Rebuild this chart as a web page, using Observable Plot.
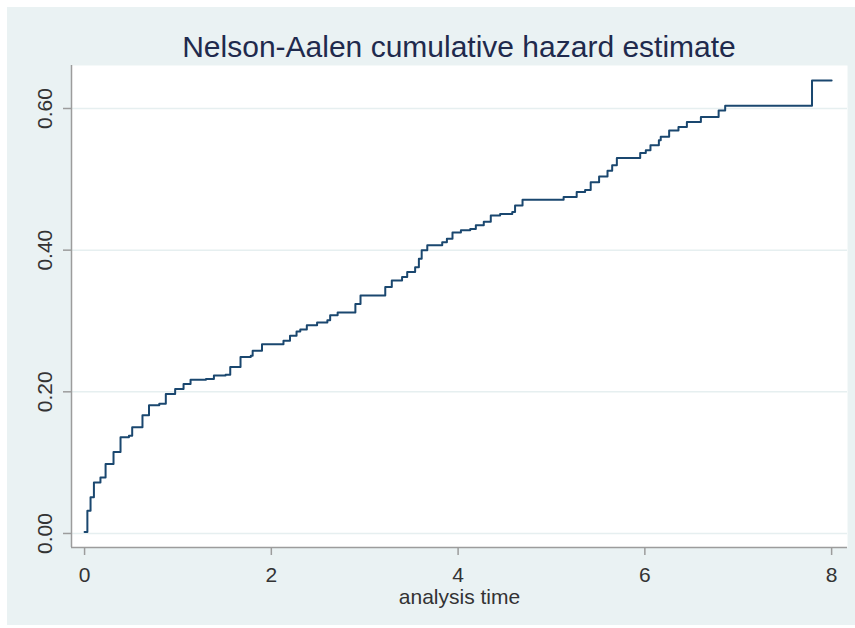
<!DOCTYPE html>
<html><head><meta charset="utf-8">
<script src="https://cdn.jsdelivr.net/npm/d3@7"></script>
<script src="https://cdn.jsdelivr.net/npm/@observablehq/plot@0.6"></script>
<style>
html,body{margin:0;padding:0;background:#fff;}
#bg{position:absolute;left:7px;top:7px;width:848px;height:618px;background:#eaf2f3;}
#title{position:absolute;left:71px;width:776px;top:32px;text-align:center;font-family:"Liberation Sans",Arial,Helvetica,sans-serif;font-size:30px;line-height:1;color:#1f2a4d;white-space:nowrap;}
#chart{position:absolute;left:0;top:50px;}
</style></head><body>
<div id="bg"></div>
<div id="title">Nelson-Aalen cumulative hazard estimate</div>
<div id="chart"></div>
<script>
const times = [0, 0.03, 0.064, 0.10, 0.17, 0.225, 0.31, 0.385, 0.475, 0.51, 0.62, 0.69, 0.80, 0.87, 0.97, 1.06, 1.135, 1.30, 1.385, 1.51, 1.56, 1.67, 1.78, 1.80, 1.90, 2.13, 2.20, 2.27, 2.31, 2.38, 2.49, 2.60, 2.63, 2.71, 2.90, 2.955, 3.22, 3.29, 3.40, 3.455, 3.54, 3.58, 3.61, 3.67, 3.83, 3.88, 3.94, 4.03, 4.13, 4.19, 4.275, 4.35, 4.45, 4.58, 4.61, 4.69, 5.13, 5.27, 5.36, 5.42, 5.51, 5.60, 5.65, 5.70, 5.95, 6.01, 6.06, 6.15, 6.17, 6.26, 6.36, 6.45, 6.60, 6.79, 6.86, 7.79, 8.0];
const hazards = [0.002, 0.032, 0.051, 0.072, 0.079, 0.098, 0.115, 0.136, 0.138, 0.150, 0.167, 0.181, 0.183, 0.197, 0.204, 0.211, 0.217, 0.218, 0.223, 0.224, 0.235, 0.249, 0.251, 0.258, 0.267, 0.272, 0.279, 0.285, 0.288, 0.294, 0.298, 0.301, 0.308, 0.312, 0.324, 0.336, 0.348, 0.357, 0.362, 0.369, 0.376, 0.388, 0.400, 0.407, 0.411, 0.416, 0.425, 0.428, 0.430, 0.435, 0.440, 0.449, 0.451, 0.454, 0.463, 0.471, 0.475, 0.482, 0.485, 0.496, 0.504, 0.512, 0.520, 0.530, 0.537, 0.541, 0.548, 0.555, 0.560, 0.569, 0.574, 0.581, 0.588, 0.597, 0.604, 0.6395, 0.6395];
const xTicks = [0, 2, 4, 6, 8];
const yTicks = [0, 0.2, 0.4, 0.6];
const xDomain = [-0.14, 8.17];
const yDomain = [-0.0198, 0.6607];
const xLabel = "analysis time";

const data = times.map((t, i) => ({t, h: hazards[i]}));
const font = '"Liberation Sans", Arial, Helvetica, sans-serif';

const chart = Plot.plot({
  width: 855,
  height: 578,
  marginTop: 15,
  marginBottom: 81,
  marginLeft: 71,
  marginRight: 8,
  style: {background: "transparent", fontFamily: font, fontSize: "21px", overflow: "visible"},
  x: {domain: xDomain},
  y: {domain: yDomain},
  marks: [
    Plot.frame({fill: "white", stroke: null}),
    Plot.gridY(yTicks, {stroke: "#e6eff0", strokeOpacity: 1, strokeWidth: 1.5}),
    Plot.ruleX([xDomain[0]], {stroke: "#9c9c9c", strokeWidth: 1.5}),
    Plot.ruleY([yDomain[0]], {stroke: "#9c9c9c", strokeWidth: 1.5}),
    Plot.axisY(yTicks, {tickSize: 8, tickPadding: 12, tickRotate: -90, tickFormat: d3.format(".2f"), label: null, stroke: "#9c9c9c", strokeWidth: 1.5, fill: "#333", fontSize: 21}),
    Plot.axisX(xTicks, {tickSize: 8, tickPadding: 12, tickFormat: d3.format("d"), label: null, stroke: "#9c9c9c", strokeWidth: 1.5, fill: "#333", fontSize: 21}),
    Plot.text([xLabel], {text: d => d, frameAnchor: "bottom", dy: 56, lineAnchor: "bottom", fill: "#333", fontSize: 21}),
    Plot.line(data, {x: "t", y: "h", curve: "step-after", stroke: "#1a476f", strokeWidth: 2})
  ]
});
document.getElementById("chart").appendChild(chart);
</script>
</body></html>
